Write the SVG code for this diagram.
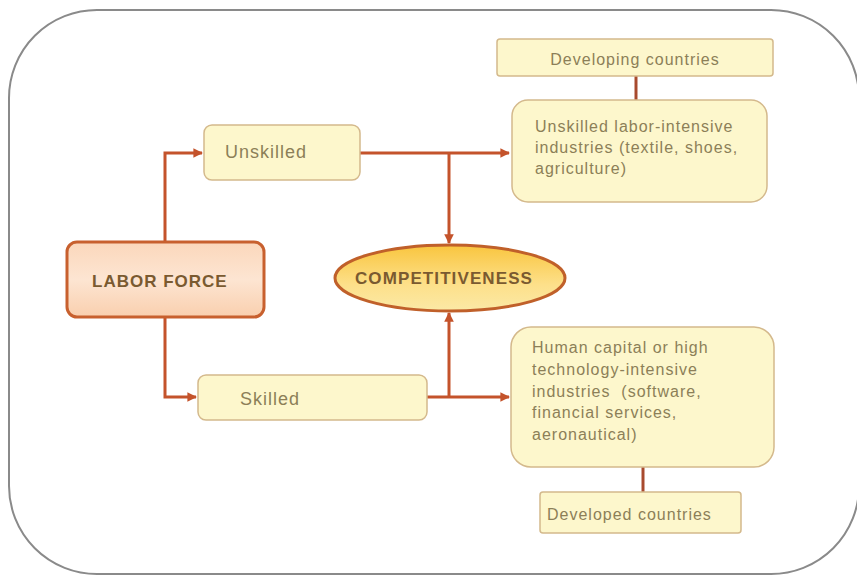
<svg xmlns="http://www.w3.org/2000/svg" width="857" height="576" viewBox="0 0 857 576">
<defs>
<style>
.box{fill:#fdf7cc;stroke:#d4b98c;stroke-width:1.5}
.t{font-family:"Liberation Sans",Arial,sans-serif;fill:#8c7f58;font-size:16px;letter-spacing:1px}
.tb{font-family:"Liberation Sans",Arial,sans-serif;fill:#7a5a30;font-weight:bold;font-size:17px;letter-spacing:1px}
.c{fill:none;stroke:#c4532b;stroke-width:3}
.cl{fill:none;stroke:#a84a2e;stroke-width:3}
</style>
<marker id="ah" viewBox="0 0 10 10" refX="9" refY="5" markerWidth="3.2" markerHeight="3.2" orient="auto" markerUnits="strokeWidth">
<path d="M0,0 L10,5 L0,10 z" fill="#c4532b"/>
</marker>
<linearGradient id="lf" x1="0" y1="0" x2="0" y2="1">
<stop offset="0" stop-color="#fbd7bb"/>
<stop offset="0.5" stop-color="#fde5d2"/>
<stop offset="1" stop-color="#f9cfae"/>
</linearGradient>
<linearGradient id="el" x1="0" y1="0" x2="0" y2="1">
<stop offset="0" stop-color="#f9c53e"/>
<stop offset="0.6" stop-color="#fde08a"/>
<stop offset="1" stop-color="#fbe9a6"/>
</linearGradient>
</defs>
<rect x="9" y="10" width="850" height="564" rx="88" ry="88" fill="#fff" stroke="#8a8a8a" stroke-width="2"/>
<g id="connectors">
<path class="c" d="M165,242 V153 H202" marker-end="url(#ah)"/>
<path class="c" d="M165,317 V397 H196" marker-end="url(#ah)"/>
<path class="c" d="M360,153 H509" marker-end="url(#ah)"/>
<path class="c" d="M449,153 V243" marker-end="url(#ah)"/>
<path class="c" d="M427,397 H509" marker-end="url(#ah)"/>
<path class="c" d="M449,397 V313" marker-end="url(#ah)"/>
<path class="cl" d="M636,76 V100"/>
<path class="cl" d="M643,467 V492"/>
</g>
<g id="labor-force">
<rect x="67" y="242" width="197" height="75" rx="10" fill="url(#lf)" stroke="#c8602e" stroke-width="3"/>
<text class="tb" x="92" y="287">LABOR FORCE</text>
</g>
<g id="unskilled">
<rect class="box" x="204" y="125" width="156" height="55" rx="8"/>
<text class="t" x="225" y="158" style="font-size:18px">Unskilled</text>
</g>
<g id="skilled">
<rect class="box" x="198" y="375" width="229" height="45" rx="8"/>
<text class="t" x="240" y="405" style="font-size:18px">Skilled</text>
</g>
<g id="competitiveness">
<ellipse cx="450" cy="278" rx="115" ry="33" fill="url(#el)" stroke="#c0602a" stroke-width="3"/>
<text class="tb" x="444" y="284" text-anchor="middle" style="letter-spacing:1.1px">COMPETITIVENESS</text>
</g>
<g id="developing">
<rect class="box" x="497" y="39" width="276" height="37" rx="3"/>
<text class="t" x="635" y="65" text-anchor="middle">Developing countries</text>
</g>
<g id="unskilled-industries">
<rect class="box" x="512" y="100" width="255" height="102" rx="16"/>
<text class="t" x="535" y="132">Unskilled labor-intensive</text>
<text class="t" x="535" y="153">industries (textile, shoes,</text>
<text class="t" x="535" y="174">agriculture)</text>
</g>
<g id="skilled-industries">
<rect class="box" x="511" y="327" width="263" height="140" rx="20"/>
<text class="t" x="532" y="353">Human capital or high</text>
<text class="t" x="532" y="375">technology-intensive</text>
<text class="t" x="532" y="397" xml:space="preserve">industries  (software,</text>
<text class="t" x="532" y="418">financial services,</text>
<text class="t" x="532" y="440">aeronautical)</text>
</g>
<g id="developed">
<rect class="box" x="540" y="492" width="201" height="41" rx="3"/>
<text class="t" x="547" y="520">Developed countries</text>
</g>
</svg>
